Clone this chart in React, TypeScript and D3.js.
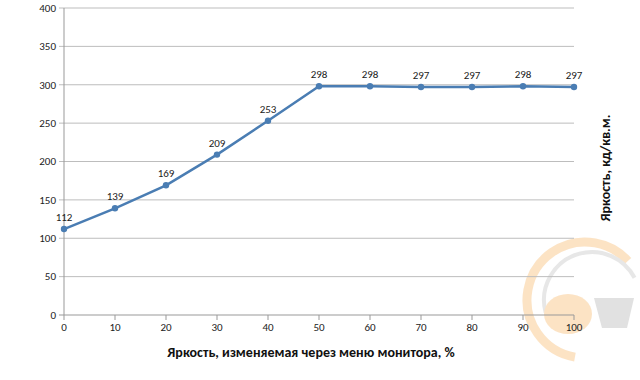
import React from "react";
import * as d3 from "d3";

const xValues = [0, 10, 20, 30, 40, 50, 60, 70, 80, 90, 100];
const yValues = [112, 139, 169, 209, 253, 298, 298, 297, 297, 298, 297];
const yTicks = [0, 50, 100, 150, 200, 250, 300, 350, 400];
const xTitle = "Яркость, изменяемая через меню монитора, %";
const yTitle = "Яркость, кд/кв.м.";

export default function App() {
  const W = 640, H = 380;
  const left = 64, right = 574, top = 8, bottom = 315;
  const x = d3.scaleLinear().domain([0, 100]).range([left, right]);
  const y = d3.scaleLinear().domain([0, 400]).range([bottom, top]);
  const pts = xValues.map((v, i) => [v, yValues[i]] as [number, number]);
  const line = d3.line<[number, number]>().x(d => x(d[0])).y(d => y(d[1]));
  const font = "Carlito, 'Liberation Sans Narrow', 'Open Sans', sans-serif";
  return (
    <svg width={W} height={H} style={{ position: "absolute", left: 0, top: 0, background: "#fff" }} fontFamily={font}>
      {/* watermark approximation */}
      <g opacity={0.35}>
        <circle cx={585} cy={300} r={58} fill="none" stroke="#f7b15a" strokeWidth={9} strokeDasharray="220 170" transform="rotate(100 585 300)" />
        <circle cx={592} cy={300} r={48} fill="none" stroke="#bbb" strokeWidth={4} strokeDasharray="140 200" transform="rotate(165 592 300)" />
        <ellipse cx={568} cy={314} rx={24} ry={20} fill="#f7b15a" />
        <path d="M594,298 L634,298 L627,328 L602,328 Z" fill="#aaa" />
      </g>
      {yTicks.map(t => (
        <g key={t}>
          <line x1={left - 5} x2={right} y1={y(t)} y2={y(t)} stroke={t === 0 ? "#999" : "#bdbdbd"} strokeWidth={1} />
          <text x={left - 8} y={y(t)} dy="0.35em" textAnchor="end" fontSize={11} fill="#222">{t}</text>
        </g>
      ))}
      <line x1={left} x2={left} y1={top} y2={bottom} stroke="#999" />
      {xValues.map(t => (
        <g key={t}>
          <line x1={x(t)} x2={x(t)} y1={bottom} y2={bottom + 5} stroke="#999" />
          <text x={x(t)} y={bottom + 16} textAnchor="middle" fontSize={11} fill="#222">{t}</text>
        </g>
      ))}
      <path d={line(pts) || ""} fill="none" stroke="#4a7db3" strokeWidth={2.5} />
      {pts.map((p, i) => (
        <g key={i}>
          <circle cx={x(p[0])} cy={y(p[1])} r={3.2} fill="#4a7db3" />
          <text x={x(p[0])} y={y(p[1]) - 8} textAnchor="middle" fontSize={11} fill="#222">{p[1]}</text>
        </g>
      ))}
      <text x={311} y={357} textAnchor="middle" fontSize={14} fontWeight="bold" fill="#111">{xTitle}</text>
      <text transform={`translate(610,168) rotate(-90)`} textAnchor="middle" fontSize={14} fontWeight="bold" fill="#111">{yTitle}</text>
    </svg>
  );
}
